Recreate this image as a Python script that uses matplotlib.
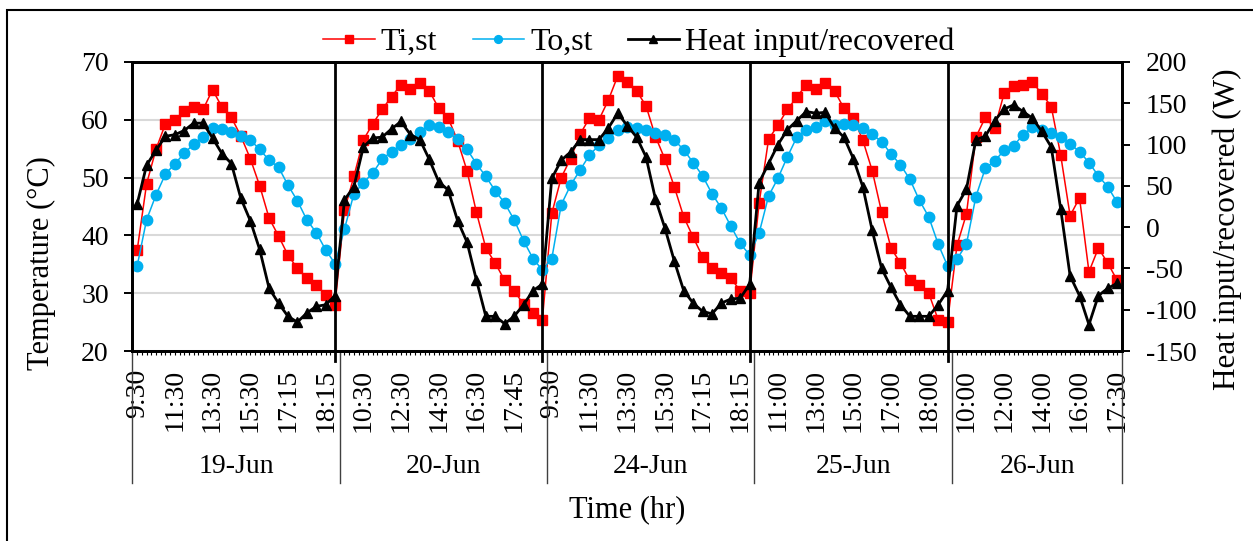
import numpy as np
import matplotlib.pyplot as plt
from matplotlib.patches import Rectangle

plt.rcParams['font.family'] = ['Liberation Serif', 'DejaVu Serif']
plt.rcParams['axes.unicode_minus'] = False

#days on the outer category level and number of readings per day
days = ["19-Jun", "20-Jun", "24-Jun", "25-Jun", "26-Jun"]
day_counts = [22, 22, 22, 21, 18]

#time labels, shown on every 4th reading
time_labels = ["9:30", "11:30", "13:30", "15:30", "17:15", "18:15",
               "10:30", "12:30", "14:30", "16:30", "17:45",
               "9:30", "11:30", "13:30", "15:30", "17:15", "18:15",
               "11:00", "13:00", "15:00", "17:00", "18:00",
               "10:00", "12:00", "14:00", "16:00", "17:30"]
label_step = 4

#storage inlet temperature (C)
ti_st = [37.4, 48.9, 54.9, 59.3, 60.0, 61.5, 62.3, 61.8, 65.2, 62.2, 60.4,
         57.2, 53.3, 48.6, 43.0, 39.9, 36.6, 34.3, 32.6, 31.5, 29.7, 28.0,
         44.4, 50.2, 56.5, 59.3, 61.8, 64.0, 66.1, 65.4, 66.3, 65.0, 62.0,
         60.3, 56.4, 51.2, 44.0, 37.8, 35.2, 32.2, 30.4, 28.1, 26.5, 25.4,
         43.8, 50.0, 53.3, 57.5, 60.3, 60.0, 63.4, 67.6, 66.6, 65.0, 62.4,
         57.1, 53.2, 48.4, 43.2, 39.7, 36.3, 34.3, 33.5, 32.6, 30.4, 30.0,
         45.6, 56.6, 59.1, 61.8, 63.9, 66.1, 65.4, 66.3, 65.0, 62.0, 60.3,
         56.5, 51.2, 44.0, 37.8, 35.2, 32.2, 31.5, 30.0, 25.4, 25.1,
         38.3, 43.7, 57.0, 60.4, 58.6, 64.6, 65.8, 66.0, 66.5, 64.5, 62.3,
         53.9, 43.4, 46.5, 33.7, 37.8, 35.2, 32.2]

#storage outlet temperature (C)
to_st = [34.7, 42.7, 47.0, 50.6, 52.4, 54.2, 55.8, 57.0, 58.5, 58.4, 57.9,
         57.2, 56.5, 54.9, 53.0, 51.8, 48.7, 46.0, 42.7, 40.5, 37.5, 35.1,
         41.1, 47.2, 49.1, 50.8, 53.2, 54.5, 55.6, 56.6, 57.9, 59.1, 58.7,
         57.9, 56.6, 54.9, 52.4, 50.2, 47.7, 45.6, 42.7, 39.1, 36.0, 34.0,
         36.0, 45.3, 48.7, 51.3, 53.9, 55.6, 56.8, 58.2, 58.7, 58.5, 58.2,
         57.8, 57.4, 56.5, 54.8, 52.6, 50.3, 47.2, 44.7, 41.6, 38.6, 36.6,
         40.4, 46.8, 49.9, 53.6, 57.0, 58.2, 58.7, 59.8, 59.1, 59.3, 59.1,
         58.5, 57.5, 56.2, 54.1, 52.2, 49.7, 46.1, 43.2, 38.5, 34.7,
         35.9, 38.5, 46.7, 51.6, 52.9, 54.7, 55.5, 57.4, 58.7, 58.2, 57.8,
         57.1, 55.8, 54.5, 52.6, 50.3, 48.4, 45.7]

#heat input / recovered (W)
heat = [28, 75, 93, 110, 112, 117, 126, 126, 108, 89, 77,
        35, 8, -27, -74, -92, -108, -115, -104, -96, -94, -83,
        33, 49, 97, 108, 109, 119, 128, 112, 106, 82, 55,
        45, 8, -18, -64, -108, -108, -117, -108, -94, -77, -69,
        59, 81, 91, 106, 106, 106, 120, 138, 123, 109, 85,
        34, -1, -41, -77, -92, -102, -105, -92, -87, -86, -69,
        54, 77, 100, 118, 129, 140, 138, 139, 120, 109, 83,
        49, -4, -50, -73, -94, -108, -108, -108, -94, -77,
        26, 46, 106, 110, 129, 143, 148, 140, 132, 116, 97,
        22, -59, -83, -118, -83, -74, -68]

x = np.arange(len(ti_st))
n = len(x)

fig = plt.figure(figsize=(12.53, 5.41), dpi=100)
ax = fig.add_axes([0.1057, 0.3512, 0.7897, 0.5342])
ax2 = ax.twinx()

l1, = ax.plot(x, ti_st, color="#FF0000", lw=1.1, marker="s", ms=7, label="Ti,st", zorder=3)
l2, = ax.plot(x, to_st, color="#00B0F0", lw=1.1, marker="o", ms=7.5, label="To,st", zorder=3)
l3, = ax2.plot(x, heat, color="black", lw=2, marker="^", ms=7.5, label="Heat input/recovered", zorder=3)

ax.set_xlim(-0.5, n - 0.5)
ax.set_ylim(20, 70)
ax.set_yticks(np.arange(20, 71, 10))
ax2.set_ylim(-150, 200)
ax2.set_yticks(np.arange(-150, 201, 50))

ax.yaxis.grid(True, color="#d9d9d9", lw=1.5)
ax.set_axisbelow(True)

#x ticks: label every 4th reading, small ticks every half reading
ax.set_xticks(x[::label_step])
ax.set_xticklabels(time_labels, rotation=90)
ax.set_xticks(np.arange(-0.5, n, 0.5), minor=True)
ax.tick_params(axis="x", which="both", length=3, width=0.8, direction="out")
ax.tick_params(axis="x", which="major", labelsize=20, pad=10)
ax.tick_params(axis="y", length=6, width=1.4, labelsize=20, pad=11)
ax2.tick_params(axis="y", length=6, width=1.4, labelsize=20, pad=11)

for a in (ax, ax2):
    for s in a.spines.values():
        s.set_linewidth(2)

#day separators inside the plot (at the last reading of each day)
ends = np.cumsum(day_counts)
for p in ends[:-1] - 1:
    ax.plot([p, p], [-0.035, 1], transform=ax.get_xaxis_transform(),
            color="black", lw=2, clip_on=False, zorder=4)

#outer category level: boundaries and day names
bounds = np.concatenate([[0], ends]) - 0.5
for b in bounds:
    ax.plot([b, b], [0, -0.457], transform=ax.get_xaxis_transform(),
            color="#404040", lw=1, clip_on=False)
for i, d in enumerate(days):
    ax.text((bounds[i] + bounds[i + 1]) / 2, -0.398, d, transform=ax.get_xaxis_transform(),
            ha="center", va="center", fontsize=20)

ax.text(0.5, -0.55, "Time (hr)", transform=ax.transAxes, ha="center", va="center", fontsize=22)
ax.set_ylabel("Temperature (°C)", fontsize=22)
ax.yaxis.set_label_coords(-0.0773, 0.304)
ax2.set_ylabel("Heat input/recovered (W)", fontsize=22.5)
ax2.yaxis.set_label_coords(1.092, 0.42)

fig.legend(handles=[l1, l2, l3], loc="center", bbox_to_anchor=(639 / 1253, 1 - 42 / 541),
           ncol=3, frameon=False, fontsize=23, handlelength=1.6, handletextpad=0.2,
           columnspacing=1.1, markerscale=0.75, borderaxespad=0, borderpad=0)

#chart area border
fig.patches.append(Rectangle((7 / 1253, -0.1), 2, 1.1 - 10 / 541, transform=fig.transFigure,
                             fill=False, ec="black", lw=1.5))

plt.savefig("out.png", dpi=100)
